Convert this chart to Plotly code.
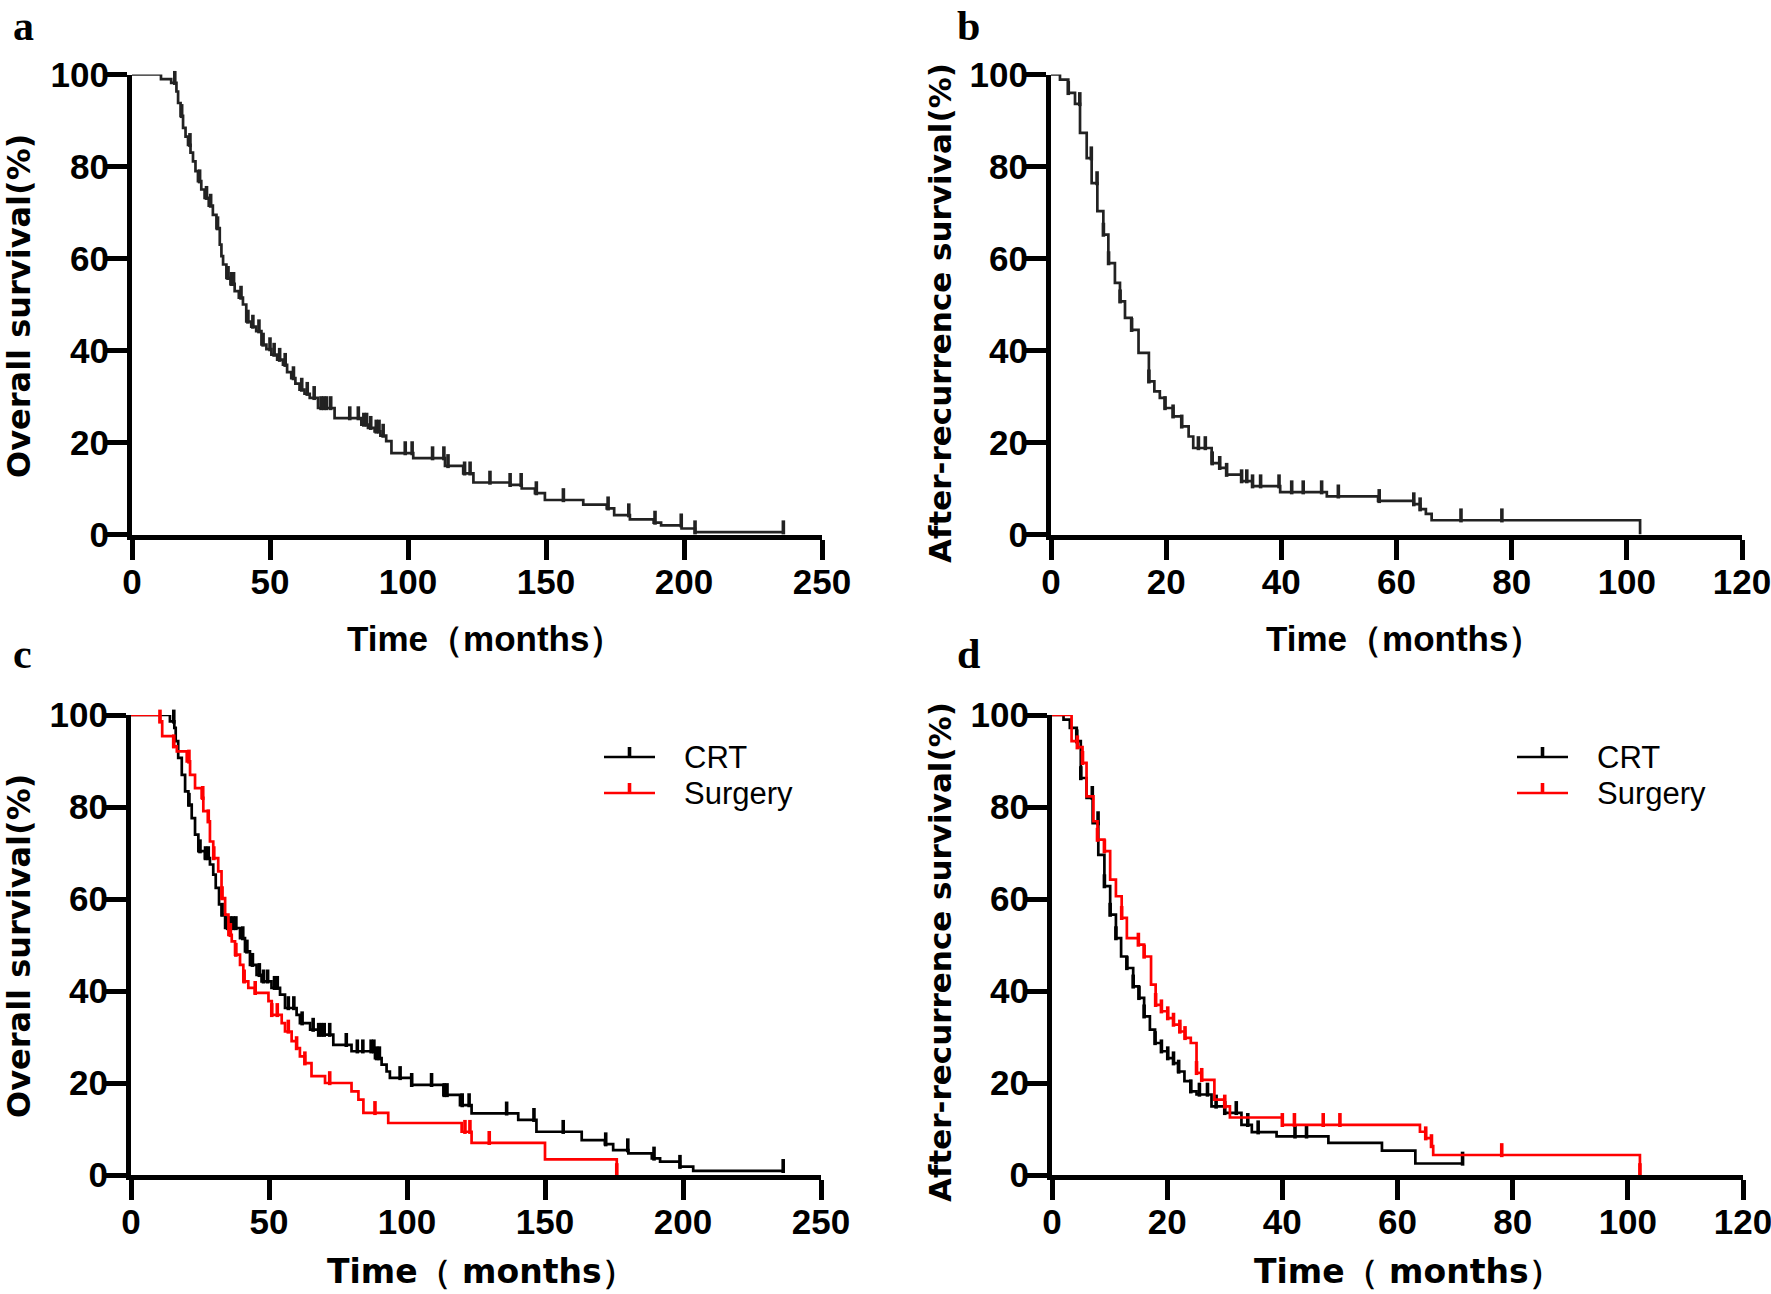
import numpy as np
import plotly.graph_objects as go

# ---------------- DATA ----------------
# Panel a: overall survival, all patients (event times, survival % after the event)
A_T = [0, 10.5, 14.2, 16.1, 16.7, 17.6, 18.5, 19.4, 20.3, 21.2, 22.1, 23.0, 23.9, 25.1, 26.3, 27.8,
       29.3, 30.6, 31.8, 32.4, 33.0, 34.2, 35.7, 37.2, 38.7, 40.2, 41.4, 43.2, 45.0, 46.9, 48.7,
       50.5, 52.6, 54.7, 56.2, 57.7, 59.2, 60.7, 62.5, 64.4, 67.4, 73.4, 83.1, 85.5, 87.9, 90.0,
       92.1, 94.0, 101.9, 113.4, 120.0, 123.7, 137.0, 141.2, 146.0, 149.6, 163.5, 172.0, 174.7,
       180.4, 189.0, 191.7, 199.1, 204.0]
A_S = [100, 99.0, 98.2, 96.3, 93.8, 91.0, 88.4, 86.5, 84.7, 83.0, 81.1, 79.0, 76.8, 75.0, 73.2, 71.5,
       69.5, 66.6, 63.0, 60.5, 58.7, 55.8, 54.5, 52.9, 51.5, 50.0, 46.3, 45.2, 44.2, 41.3, 40.3,
       39.1, 38.0, 36.9, 35.3, 34.0, 32.8, 31.5, 30.6, 29.7, 27.5, 25.3, 23.9, 23.2, 22.4, 21.5,
       20.3, 17.7, 16.6, 14.9, 13.3, 11.3, 10.8, 10.0, 9.0, 7.5, 6.5, 5.7, 4.2,
       3.3, 2.6, 2.0, 1.3, 0.5]
A_CENS = [7.6, 8.5, 9.5, 10.2, 11.2, 12.5, 13.5, 15.5, 18, 21, 24.5, 27, 28.5, 31, 34.8, 36, 36.8,
          39.5, 42, 43.8, 46, 47.5, 50, 51.5, 53.5, 55.5, 58.5, 61.5, 63.5, 66, 68.5, 69.5, 70.5,
          72, 78.9, 82, 84, 85, 86.5, 88.5, 89.5, 91, 99, 101.5, 108.9, 113, 114.5, 120.5, 122.5,
          129.7, 137, 141, 146.5, 156.3, 172.5, 180, 189.5, 199, 204, 236]

# Panel b: after-recurrence survival, all patients
B_T = [0, 1.56, 3.0, 4.17, 5.04, 6.2, 7.06, 8.05, 9.09, 9.96, 11.1, 11.98, 12.85, 14.0, 15.2, 17.0,
       17.95, 18.9, 19.8, 21.2, 22.7, 23.9, 24.7, 27.9, 29.3, 30.5, 33.1, 35.0, 39.8, 47.9, 56.8,
       63.0, 64.1, 65.1, 66.1, 102.3]
B_S = [100, 98.9, 96.0, 93.6, 87.3, 81.8, 76.4, 70.3, 65.2, 59.0, 54.7, 50.7, 47.1, 44.5, 39.5, 33.3,
       31.1, 29.7, 27.5, 25.7, 23.5, 21.3, 18.8, 15.5, 14.5, 13.0, 11.6, 10.5, 9.2, 8.3, 7.3,
       6.6, 5.5, 4.5, 3.1, 0]
B_CENS = [1.0, 3.0, 5.0, 7.0, 8.0, 9.1, 10.0, 12.0, 14.0, 17.0, 19.8, 21.2, 22.7, 25.6, 26.8, 28.0,
          29.3, 30.5, 33.1, 34.0, 35.0, 36.4, 39.6, 41.8, 43.8, 47.0, 49.9, 57.0, 63.0, 64.1,
          71.2, 78.3]

# Panel c: overall survival by treatment
C_CRT_T = [0, 14.1, 15.7, 16.2, 17.1, 18.4, 19.6, 20.8, 22.0, 23.2, 24.4, 26.8, 28.6, 29.8, 30.7,
           31.9, 32.9, 34.1, 39.5, 41.3, 43.1, 45.5, 47.3, 50.9, 54.0, 55.8, 60.0, 61.2, 64.9,
           67.9, 73.3, 79.9, 88.4, 90.8, 92.6, 93.8, 101.7, 113.2, 119.2, 123.4, 140.3, 146.9,
           163.3, 171.7, 174.7, 180.2, 188.7, 191.7, 198.9, 203.7]
C_CRT_S = [100, 98.6, 97.2, 94.3, 90.7, 87.0, 83.4, 80.5, 77.6, 74.0, 70.4, 68.9, 67.5, 65.3, 62.4,
           58.8, 56.6, 53.7, 51.5, 48.6, 45.7, 43.5, 42.1, 40.7, 39.2, 36.3, 34.8, 33.0, 31.6,
           30.5, 28.3, 26.9, 25.4, 24.0, 22.5, 21.1, 19.6, 17.4, 15.2, 13.4, 12.0, 9.4,
           7.6, 6.7, 5.4, 4.7, 3.6, 2.9, 1.8, 0.9]
C_CRT_CENS = [10, 11, 12, 13, 14, 15.5, 21, 25, 27, 28, 33, 35, 36, 37, 38, 40.5, 42, 44, 46.5, 48,
              49.5, 52, 53, 57, 59, 62, 66, 68, 69, 70, 72, 78, 82, 84, 87, 88, 89, 90, 97.5,
              101.7, 108.9, 113.5, 114.5, 120, 122.5, 136.1, 146, 156.6, 172, 180, 189.5, 198.9,
              236.3]
C_SUR_T = [0, 10.5, 11.3, 15.3, 16.6, 20.2, 21.4, 23.2, 25.6, 26.2, 28.0, 28.6, 29.8, 31.6, 32.8,
           34.1, 35.3, 36.5, 37.7, 39.5, 40.7, 42.5, 44.9, 49.8, 51.0, 54.6, 55.8, 58.2, 60.0,
           61.2, 63.0, 65.4, 70.3, 79.9, 82.4, 84.2, 93.2, 119.8, 123.4, 150.0, 176.0]
C_SUR_S = [100, 98.6, 95.4, 93.2, 92.1, 89.9, 87.0, 84.1, 82.0, 79.1, 76.9, 72.5, 68.9, 66.0, 60.2,
           56.6, 52.2, 50.8, 47.9, 45.7, 42.1, 40.7, 39.6, 37.8, 34.8, 33.0, 31.2, 29.1, 27.6,
           25.8, 24.3, 21.5, 20.0, 18.2, 16.4, 13.5, 11.3, 9.4, 7.0, 3.4, 0]
C_SUR_CENS = [7.5, 10.5, 15.5, 21, 26, 28, 30, 33, 36, 38, 41, 45, 51, 53, 57, 60, 63, 72, 88.4,
              121, 122.8, 129.8, 176]

# Panel d: after-recurrence survival by treatment
D_CRT_T = [0, 2.0, 3.1, 4.3, 5.0, 6.0, 7.06, 8.04, 9.1, 10.1, 11.1, 12.0, 13.0, 14.1, 15.1, 16.0,
           17.0, 17.9, 19.0, 20.1, 21.1, 21.9, 23.0, 24.1, 25.1, 27.7, 30.0, 32.9, 34.7, 39.0,
           48.0, 57.3, 63.1]
D_CRT_S = [100, 99.0, 97.2, 94.3, 86.3, 82.0, 76.5, 69.6, 62.8, 56.6, 51.5, 47.5, 45.0, 41.0, 38.5,
           34.5, 31.6, 28.7, 26.9, 25.4, 24.3, 22.5, 20.4, 18.2, 17.5, 14.9, 13.5, 10.9, 9.3, 8.4,
           7.0, 5.3, 2.5]
D_CRT_CENS = [1.2, 2.0, 4.3, 5.0, 7.0, 8.0, 9.1, 10.1, 11.1, 13.0, 14.1, 15.1, 16.0, 17.9, 19.0,
              20.1, 21.1, 22.0, 24.1, 25.6, 27.0, 28.5, 30.0, 32.0, 34.0, 35.8, 42.2, 44.2, 71.3]
D_SUR_T = [0, 3.4, 4.4, 5.3, 6.0, 7.2, 7.9, 9.1, 10.1, 11.1, 12.1, 13.0, 15.0, 16.0, 17.2, 18.0,
           19.0, 20.1, 21.1, 22.2, 23.1, 24.1, 25.1, 26.0, 28.2, 30.0, 30.9, 40.0, 63.9, 64.9,
           65.9, 66.2, 102.1]
D_SUR_S = [100, 94.3, 93.0, 89.6, 82.3, 76.9, 72.9, 70.4, 64.2, 60.6, 55.9, 51.5, 50.1, 47.5, 41.4,
           37.0, 35.6, 34.1, 32.7, 31.2, 29.8, 28.7, 22.2, 20.7, 16.4, 14.9, 12.5, 10.9, 9.4, 8.0,
           6.3, 4.35, 0]
D_SUR_CENS = [3.0, 4.4, 5.3, 7.9, 9.1, 12.1, 15.0, 16.0, 18.0, 19.0, 20.1, 21.1, 22.2, 23.1, 25.1,
              26.0, 30.0, 40.0, 42.1, 47.1, 50.0, 64.9, 65.9, 78.1, 102.1]

GROUPS = ["CRT", "Surgery"]
Y_TICKS = [0, 20, 40, 60, 80, 100]
X_TICKS_OS = [0, 50, 100, 150, 200, 250]
X_TICKS_ARS = [0, 20, 40, 60, 80, 100, 120]
Y_TITLE_OS = "Overall survival(%)"
Y_TITLE_ARS = "After-recurrence survival(%)"
X_TITLE_TOP = "Time（months）"
X_TITLE_BOTTOM = "Time（ months）"
PANEL_LETTERS = ["a", "b", "c", "d"]

# ---------------- STYLE ----------------
W, H = 1771, 1294
BLACK = "#000000"
DARK = "#222222"
RED = "#ff0000"
CENSOR_SHIFT = 1.05   # half tick height in % units, so the tick rises from the curve


def px(x):
    return x / W


def py(y):
    return 1 - y / H


def km_trace(T, S, cens, color, xa, ya, width=2.7):
    T = np.asarray(T, float)
    S = np.asarray(S, float)
    cens = np.asarray(cens, float)
    t_end = max(T[-1], cens.max()) if len(cens) else T[-1]
    xs = list(T) + ([t_end] if t_end > T[-1] else [])
    ys = list(S) + ([S[-1]] if t_end > T[-1] else [])
    line = go.Scatter(x=xs, y=ys, mode="lines", line=dict(color=color, width=width, shape="hv"),
                      xaxis=xa, yaxis=ya, showlegend=False, hoverinfo="skip")
    idx = np.searchsorted(T, cens, side="right") - 1
    cy = S[idx] + CENSOR_SHIFT
    marks = go.Scatter(x=cens, y=cy, mode="markers", cliponaxis=False,
                       marker=dict(symbol="line-ns", size=10, color=color,
                                   line=dict(color=color, width=3.6)),
                       xaxis=xa, yaxis=ya, showlegend=False, hoverinfo="skip")
    return [line, marks]


fig = go.Figure()
for tr in km_trace(A_T, A_S, A_CENS, DARK, "x", "y"):
    fig.add_trace(tr)
for tr in km_trace(B_T, B_S, B_CENS, DARK, "x2", "y2"):
    fig.add_trace(tr)
for tr in km_trace(C_CRT_T, C_CRT_S, C_CRT_CENS, BLACK, "x3", "y3"):
    fig.add_trace(tr)
for tr in km_trace(C_SUR_T, C_SUR_S, C_SUR_CENS, RED, "x3", "y3"):
    fig.add_trace(tr)
for tr in km_trace(D_CRT_T, D_CRT_S, D_CRT_CENS, BLACK, "x4", "y4"):
    fig.add_trace(tr)
for tr in km_trace(D_SUR_T, D_SUR_S, D_SUR_CENS, RED, "x4", "y4"):
    fig.add_trace(tr)

TICKFONT = dict(family="Liberation Sans, Arial, sans-serif", size=35, color=BLACK, weight="bold")


def xaxis_cfg(dom, ticks, anchor):
    return dict(domain=[px(dom[0]), px(dom[1])], range=[0, ticks[-1]], tickvals=ticks,
                ticks="outside", ticklen=20, tickwidth=4.5, tickcolor=BLACK,
                showline=True, linewidth=5, linecolor=BLACK, showgrid=False, zeroline=False,
                tickfont=TICKFONT, ticklabelstandoff=-8, ticklabeloverflow="allow",
                anchor=anchor, fixedrange=True, automargin=False)


def yaxis_cfg(dom, anchor):
    return dict(domain=[py(dom[1]), py(dom[0])], range=[0, 100], tickvals=Y_TICKS,
                ticks="outside", ticklen=20, tickwidth=4.5, tickcolor=BLACK,
                showline=True, linewidth=5, linecolor=BLACK, showgrid=False, zeroline=False,
                tickfont=TICKFONT, ticklabelstandoff=-9, ticklabeloverflow="allow",
                anchor=anchor, fixedrange=True, automargin=False)


fig.update_layout(
    width=W, height=H, autosize=False,
    margin=dict(l=0, r=0, t=0, b=0, pad=0),
    paper_bgcolor="white", plot_bgcolor="white",
    xaxis=xaxis_cfg((132, 822), X_TICKS_OS, "y"),
    yaxis=yaxis_cfg((74.5, 534.5), "x"),
    xaxis2=xaxis_cfg((1051, 1742), X_TICKS_ARS, "y2"),
    yaxis2=yaxis_cfg((74.5, 534.5), "x2"),
    xaxis3=xaxis_cfg((131, 821), X_TICKS_OS, "y3"),
    yaxis3=yaxis_cfg((715, 1175), "x3"),
    xaxis4=xaxis_cfg((1052, 1743), X_TICKS_ARS, "y4"),
    yaxis4=yaxis_cfg((715, 1175), "x4"),
)

ann = []
YT_FONT = dict(family="DejaVu Sans, sans-serif", size=32, color=BLACK, weight="bold")
YT_FONT2 = dict(family="DejaVu Sans, sans-serif", size=31, color=BLACK, weight="bold")
for (x, y, txt, f) in [(19, 306, Y_TITLE_OS, YT_FONT), (940, 313, Y_TITLE_ARS, YT_FONT2),
                       (19, 946, Y_TITLE_OS, YT_FONT), (940, 952, Y_TITLE_ARS, YT_FONT2)]:
    ann.append(dict(x=px(x), y=py(y), xref="paper", yref="paper", text=txt, textangle=-90,
                    showarrow=False, xanchor="center", yanchor="middle", font=f))

XT_FONT_TOP = dict(family="Liberation Sans Narrow, Liberation Sans, sans-serif", size=35,
                   color=BLACK, weight="bold")
XT_FONT_BOT = dict(family="DejaVu Sans, sans-serif", size=33, color=BLACK, weight="bold")
for (x, y, txt, f) in [(486, 638, X_TITLE_TOP, XT_FONT_TOP), (1404, 638, X_TITLE_TOP, XT_FONT_TOP),
                       (481, 1271, X_TITLE_BOTTOM, XT_FONT_BOT), (1408, 1271, X_TITLE_BOTTOM, XT_FONT_BOT)]:
    ann.append(dict(x=px(x), y=py(y), xref="paper", yref="paper", text=txt, showarrow=False,
                    xanchor="center", yanchor="middle", font=f))

LET_FONT = dict(family="Liberation Serif, serif", size=42, color=BLACK, weight="bold")
for (x, y, txt) in zip([11, 955, 11, 955], [1, 1, 629, 629], PANEL_LETTERS):
    ann.append(dict(x=px(x), y=py(y), xref="paper", yref="paper", text=txt, showarrow=False,
                    xanchor="left", yanchor="top", font=LET_FONT))

# legends (panels c and d)
LEG_FONT = dict(family="Liberation Sans, Arial, sans-serif", size=31, color=BLACK)
shapes = []
for (lx0, lx1, tx) in [(604, 655, 682), (1517, 1568, 1595)]:
    for (name, col, ly) in zip(GROUPS, [BLACK, RED], [757, 793]):
        shapes.append(dict(type="line", xref="paper", yref="paper", x0=px(lx0), x1=px(lx1),
                           y0=py(ly), y1=py(ly), line=dict(color=col, width=2.7)))
        mid = (lx0 + lx1) / 2
        shapes.append(dict(type="line", xref="paper", yref="paper", x0=px(mid), x1=px(mid),
                           y0=py(ly), y1=py(ly - 10), line=dict(color=col, width=3.6)))
        ann.append(dict(x=px(tx), y=py(ly), xref="paper", yref="paper", text=name,
                        showarrow=False, xanchor="left", yanchor="middle", font=LEG_FONT))

fig.update_layout(annotations=ann, shapes=shapes)
fig.write_html("out.html", config={"displayModeBar": False},
               post_script="document.body.style.margin='0';document.body.style.overflow='hidden';")
